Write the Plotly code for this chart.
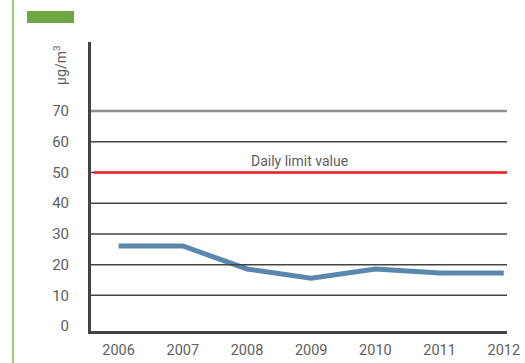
import plotly.graph_objects as go

# PM10 annual mean concentration (µg/m³)
years = [2006, 2007, 2008, 2009, 2010, 2011, 2012]
values = [26.1, 26.1, 18.6, 15.6, 18.6, 17.3, 17.3]
daily_limit = 50
limit_label = "Daily limit value"
y_ticks = [0, 10, 20, 30, 40, 50, 60, 70]
y_title = "µg/m<sup>3</sup>"

TEXT = "#5e5e5e"
AXIS = "#444444"
FONT = "Roboto, Arial, sans-serif"

fig = go.Figure()

# horizontal grid lines, the topmost one in a lighter grey
for v in y_ticks[1:]:
    top = v == max(y_ticks)
    fig.add_shape(type="line", xref="paper", yref="y", x0=0, x1=1, y0=v, y1=v,
                  line=dict(color="#8f8f8f" if top else AXIS,
                            width=2.5 if top else 1.5))

# daily limit reference line
fig.add_shape(type="line", xref="paper", yref="y", x0=0.007, x1=1,
              y0=daily_limit, y1=daily_limit,
              line=dict(color="#e8202a", width=2.5))
fig.add_annotation(text=limit_label, xref="paper", yref="y", x=0.5, y=daily_limit,
                   yanchor="bottom", yshift=2, showarrow=False,
                   font=dict(family=FONT, size=14, color=TEXT))

fig.add_trace(go.Scatter(x=years, y=values, mode="lines",
                         line=dict(color="#5b87ae", width=5),
                         hoverinfo="x+y", showlegend=False))

# unit label
fig.add_annotation(text=y_title, xref="paper", yref="paper", x=-0.075, y=0.92,
                   xanchor="center", yanchor="middle",
                   textangle=-90, showarrow=False,
                   font=dict(family=FONT, size=14, color=TEXT))

# green accent bar and side rule
fig.add_shape(type="rect", xref="paper", yref="paper",
              x0=-0.1538, x1=-0.0409, y0=1.0657, y1=1.1073,
              fillcolor="#6ea642", line=dict(width=0))
fig.add_shape(type="line", xref="paper", yref="paper",
              x0=-0.1875, x1=-0.1875, y0=-0.12, y1=1.16,
              line=dict(color="#7fba4c", width=1.5))

fig.update_layout(
    width=525, height=363,
    margin=dict(l=91, r=18, t=42, b=32),
    paper_bgcolor="white", plot_bgcolor="white",
    font=dict(family=FONT, color=TEXT),
    showlegend=False,
    xaxis=dict(range=[2005.57, 2012.05], tickvals=years,
               ticktext=[str(y) for y in years],
               showgrid=False, zeroline=False, automargin=False,
               showline=True, linecolor=AXIS, linewidth=3,
               ticks="", ticklabelstandoff=4,
               tickfont=dict(family=FONT, size=14.5, color=TEXT)),
    yaxis=dict(range=[-1.6, 92.5], tickvals=y_ticks,
               showgrid=False, zeroline=False, automargin=False,
               showline=True, linecolor=AXIS, linewidth=3,
               ticks="", ticklabelstandoff=16,
               tickfont=dict(family=FONT, size=15, color=TEXT)),
)

fig.write_html("out.html")
